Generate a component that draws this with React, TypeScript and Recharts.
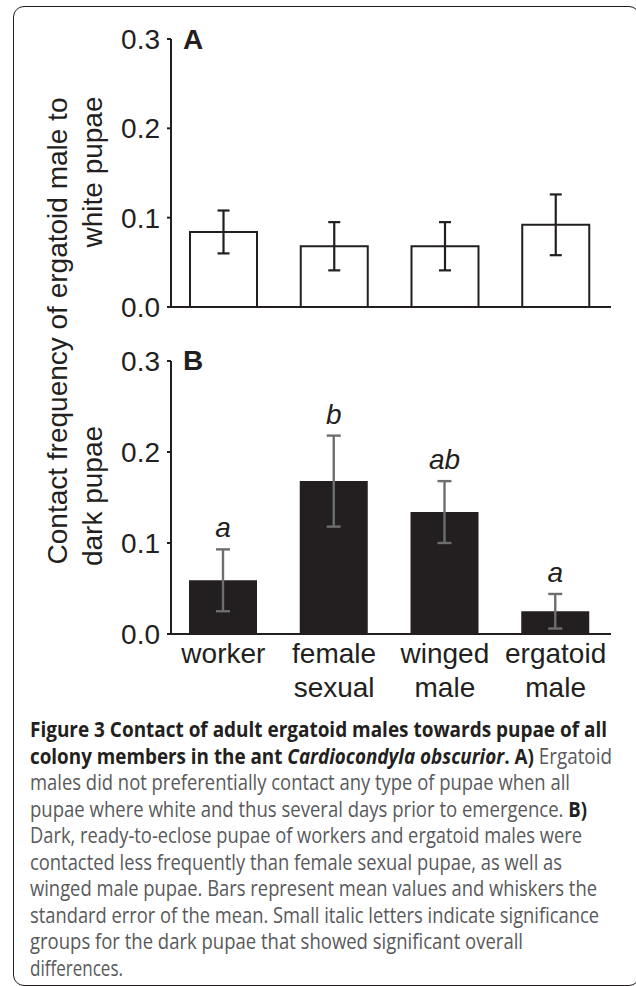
import React from "react";
import { BarChart, Bar, XAxis, YAxis, ErrorBar, LabelList } from "recharts";

const categories = ["worker", "female\nsexual", "winged\nmale", "ergatoid\nmale"];
const whiteMeans = [0.084, 0.068, 0.068, 0.092];
const whiteSem = [0.024, 0.027, 0.027, 0.034];
const darkMeans = [0.059, 0.168, 0.134, 0.025];
const darkSem = [0.034, 0.05, 0.034, 0.019];
const darkGroups = ["a", "b", "ab", "a"];
const yTicks = [0, 0.1, 0.2, 0.3];

const INK = "#231f20";
const GREY = "#6d6e71";
const FONT = '"Liberation Sans", Arial, sans-serif';
const CAP_FONT = '"Open Sans", "Noto Sans", sans-serif';
const FS = 28;

const whiteData = categories.map((name, i) => ({ name, mean: whiteMeans[i], sem: whiteSem[i] }));
const darkData = categories.map((name, i) => ({
  name,
  mean: darkMeans[i],
  sem: darkSem[i],
  group: darkGroups[i],
}));

function CategoryTick({ x, y, payload }: any) {
  const lines = String(payload.value).split("\n");
  return (
    <text x={x} y={y} textAnchor="middle" fontFamily={FONT} fontSize={FS} fill={INK}>
      {lines.map((l, i) => (
        <tspan key={i} x={x} dy={i === 0 ? 29 : 34}>
          {l}
        </tspan>
      ))}
    </text>
  );
}

// letter sits a little above the top whisker of each dark bar
function GroupLabel(props: any) {
  const { x, y, width, height, index, value } = props;
  const perUnit = Number(height) / darkMeans[index];
  const top = Number(y) - darkSem[index] * perUnit;
  return (
    <text
      x={Number(x) + Number(width) / 2}
      y={top - 12}
      textAnchor="middle"
      fontFamily={FONT}
      fontStyle="italic"
      fontSize={FS}
      fill={INK}
    >
      {value}
    </text>
  );
}

const yAxisProps = {
  domain: [0, 0.3] as [number, number],
  ticks: yTicks,
  tickFormatter: (v: number) => v.toFixed(1),
  tickSize: 4,
  tickMargin: 7,
  width: 60,
  axisLine: { stroke: INK, strokeWidth: 2 },
  tickLine: { stroke: INK, strokeWidth: 2 },
  tick: { fill: INK, fontSize: FS, fontFamily: FONT },
  interval: 0 as const,
};

type Seg = { t: string; b?: boolean; i?: boolean };
const caption: { segs: Seg[]; len: number }[] = [
  { segs: [{ t: "Figure 3 Contact of adult ergatoid males towards pupae of all", b: true }], len: 577 },
  {
    segs: [
      { t: "colony members in the ant ", b: true },
      { t: "Cardiocondyla obscurior", b: true, i: true },
      { t: ". A)", b: true },
      { t: " Ergatoid" },
    ],
    len: 582,
  },
  { segs: [{ t: "males did not preferentially contact any type of pupae when all" }], len: 540 },
  { segs: [{ t: "pupae where white and thus several days prior to emergence. " }, { t: "B)", b: true }], len: 557 },
  { segs: [{ t: "Dark, ready-to-eclose pupae of workers and ergatoid males were" }], len: 552 },
  { segs: [{ t: "contacted less frequently than female sexual pupae, as well as" }], len: 532 },
  { segs: [{ t: "winged male pupae. Bars represent mean values and whiskers the" }], len: 567 },
  { segs: [{ t: "standard error of the mean. Small italic letters indicate significance" }], len: 569 },
  { segs: [{ t: "groups for the dark pupae that showed significant overall" }], len: 493 },
  { segs: [{ t: "differences." }], len: 93 },
];

export default function App() {
  return (
    <div
      style={{
        position: "absolute",
        left: 0,
        top: 0,
        width: 636,
        height: 986,
        overflow: "hidden",
        background: "#fff",
      }}
    >
      <div
        style={{
          position: "absolute",
          left: 13,
          top: 6,
          width: 627,
          height: 980,
          boxSizing: "border-box",
          border: `1.6px solid ${INK}`,
          borderRadius: 11,
        }}
      />

      <div style={{ position: "absolute", left: 0, top: 0 }}>
        <BarChart width={636} height={330} data={whiteData} margin={{ top: 39, right: 25, bottom: 21, left: 111 }}>
          <XAxis
            dataKey="name"
            tick={false}
            tickLine={false}
            height={2}
            axisLine={{ stroke: INK, strokeWidth: 2 }}
            padding={{ left: -3, right: 0 }}
          />
          <YAxis {...yAxisProps} />
          <Bar dataKey="mean" fill="#fff" stroke={INK} strokeWidth={2} barSize={67} isAnimationActive={false}>
            <ErrorBar dataKey="sem" width={6} stroke={INK} strokeWidth={2.2} direction="y" isAnimationActive={false} />
          </Bar>
        </BarChart>
      </div>

      <div style={{ position: "absolute", left: 0, top: 330 }}>
        <BarChart width={636} height={420} data={darkData} margin={{ top: 31, right: 25, bottom: 36, left: 111 }}>
          <XAxis
            dataKey="name"
            tick={<CategoryTick />}
            tickLine={false}
            tickSize={0}
            tickMargin={0}
            height={80}
            interval={0}
            axisLine={{ stroke: INK, strokeWidth: 2 }}
            padding={{ left: -3, right: 0 }}
          />
          <YAxis {...yAxisProps} />
          <Bar dataKey="mean" fill={INK} barSize={68} isAnimationActive={false}>
            <ErrorBar dataKey="sem" width={7} stroke={GREY} strokeWidth={2.4} direction="y" isAnimationActive={false} />
            <LabelList dataKey="group" content={<GroupLabel />} />
          </Bar>
        </BarChart>
      </div>

      <svg
        width={636}
        height={986}
        style={{ position: "absolute", left: 0, top: 0, pointerEvents: "none" }}
      >
        <g fontFamily={FONT} fontSize={FS} fill={INK}>
          <text transform="translate(67,331) rotate(-90)" textAnchor="middle">
            Contact frequency of ergatoid male to
          </text>
          <text transform="translate(102,172) rotate(-90)" textAnchor="middle">
            white pupae
          </text>
          <text transform="translate(102,496) rotate(-90)" textAnchor="middle">
            dark pupae
          </text>
          <text x={183} y={49} fontWeight="bold">
            A
          </text>
          <text x={183} y={370} fontWeight="bold">
            B
          </text>
        </g>
        <g fontFamily={CAP_FONT} fontSize={21}>
          {caption.map((line, li) => (
            <text
              key={li}
              x={30}
              y={737 + 26.55 * li}
              textLength={line.len}
              lengthAdjust="spacingAndGlyphs"
            >
              {line.segs.map((s, si) => (
                <tspan
                  key={si}
                  fontWeight={s.b ? "bold" : "normal"}
                  fontStyle={s.i ? "italic" : "normal"}
                  fill={s.b ? INK : "#58595b"}
                >
                  {s.t}
                </tspan>
              ))}
            </text>
          ))}
        </g>
      </svg>
    </div>
  );
}
